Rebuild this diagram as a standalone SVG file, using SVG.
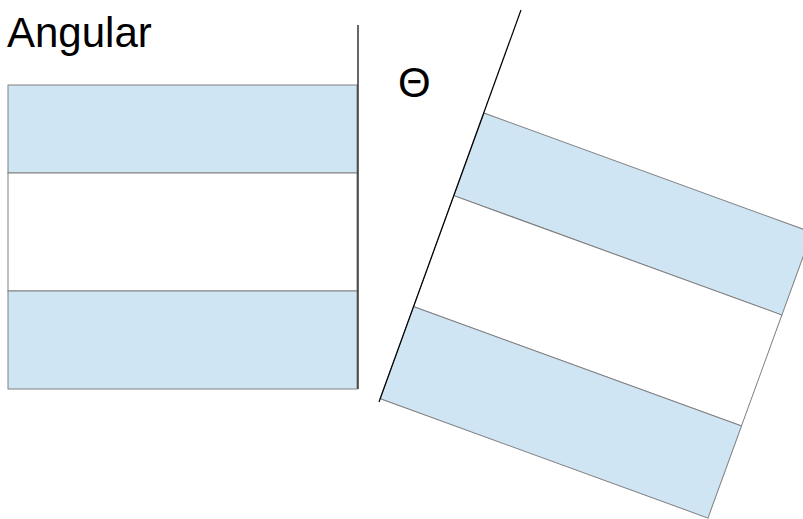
<svg xmlns="http://www.w3.org/2000/svg" width="803" height="519" viewBox="0 0 803 519">
  <style>
    .band { fill: #cfe5f3; stroke: #808080; stroke-width: 1; }
    .gap { fill: #ffffff; stroke: #808080; stroke-width: 1; }
    .axis { stroke: #000000; stroke-width: 1.2; fill: none; }
    .lbl { font-family: "Liberation Sans", Arial, sans-serif; font-size: 42px; fill: #000000; }
  </style>
  <rect x="0" y="0" width="803" height="519" fill="#ffffff"/>
  <text class="lbl" x="7" y="47">Angular</text>
  <text class="lbl" x="398" y="97">Θ</text>
  <g id="square-upright">
    <rect class="band" x="8" y="85" width="349" height="88"/>
    <rect class="gap" x="8" y="173" width="349" height="118"/>
    <rect class="band" x="8" y="291" width="349" height="98"/>
  </g>
  <g id="square-rotated" transform="translate(484,113) rotate(20)">
    <rect class="band" x="0" y="0" width="349" height="88"/>
    <rect class="gap" x="0" y="88" width="349" height="118"/>
    <rect class="band" x="0" y="206" width="349" height="98"/>
  </g>
  <g id="connectors">
    <line class="axis" x1="358" y1="25" x2="358" y2="389"/>
    <line class="axis" x1="521" y1="10" x2="379" y2="402"/>
  </g>
</svg>
